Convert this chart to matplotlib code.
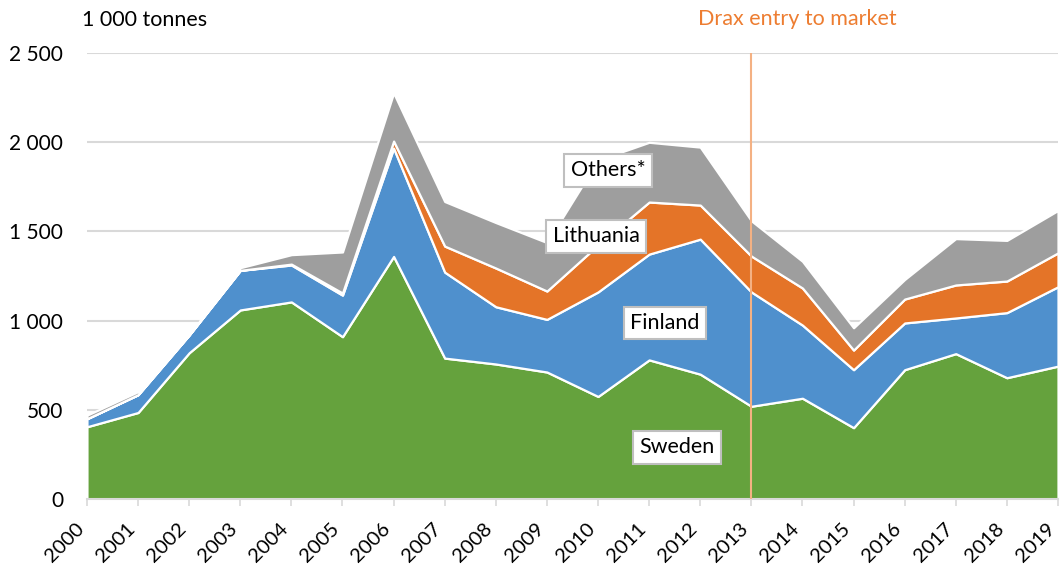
import matplotlib
matplotlib.use("Agg")

import matplotlib.pyplot as plt
import matplotlib.ticker as mticker

plt.rcParams["font.family"] = ["Lato", "DejaVu Sans"]

# Wood pellet imports, 1 000 tonnes
years = list(range(2000, 2020))
sweden = [405, 485, 820, 1060, 1105, 910, 1360, 790, 757, 712,
          575, 780, 700, 520, 565, 400, 725, 815, 680, 745]
finland = [45, 100, 100, 222, 207, 233, 607, 482, 321, 295,
           586, 593, 757, 641, 410, 325, 262, 200, 365, 445]
lithuania = [0, 0, 0, 0, 5, 12, 40, 146, 217, 159,
             263, 292, 191, 201, 208, 110, 134, 185, 177, 190]
others = [20, 17, 0, 15, 53, 230, 270, 250, 255, 272,
          476, 335, 325, 198, 150, 125, 110, 260, 228, 238]

series_names = ["Sweden", "Finland", "Lithuania", "Others*"]
label_pos = [(2011.55, 291), (2011.31, 987), (2009.96, 1474), (2010.2, 1844)]

COLORS = ["#65A23D", "#4F90CD", "#E47428", "#9E9E9E"]
GRID = "#D9D9D9"
DRAX_LINE = "#F4B183"
DRAX_TEXT = "#ED7D31"
FS = 15.5

fig = plt.figure(figsize=(10.63, 5.65), dpi=100)
ax = fig.add_axes([0.0818, 0.1168, 0.9135, 0.7892])

ax.stackplot(years, sweden, finland, lithuania, others, colors=COLORS,
             edgecolor="white", linewidth=1.6, zorder=3)

ax.set_xlim(2000, 2019)
ax.set_ylim(0, 2500)
ax.set_yticks(range(0, 2501, 500))
ax.yaxis.set_major_formatter(
    mticker.FuncFormatter(lambda v, p: f"{int(v):,}".replace(",", " ")))
ax.grid(axis="y", color=GRID, linewidth=1.5, zorder=0)
ax.set_axisbelow(True)

ax.set_xticks(years)
ax.set_xticklabels([str(y) for y in years], rotation=45, ha="right",
                   va="top", fontsize=14.5)
ax.tick_params(axis="x", direction="out", length=5, width=1.2, color=GRID, pad=10)
ax.tick_params(axis="y", length=0, pad=17, labelsize=15)

for side in ["top", "right", "left"]:
    ax.spines[side].set_visible(False)
ax.spines["bottom"].set_color(GRID)
ax.spines["bottom"].set_linewidth(1.5)
ax.spines["bottom"].set_zorder(4)

# Drax marker
ax.axvline(2013, color=DRAX_LINE, linewidth=1.5, zorder=5)
ax.text(2013.9, 2690, "Drax entry to market", color=DRAX_TEXT, fontsize=FS,
        ha="center", va="center", clip_on=False)

ax.text(-0.005, 1.075, "1 000 tonnes", transform=ax.transAxes, fontsize=FS,
        ha="left", va="center")

for name, (lx, ly) in zip(series_names, label_pos):
    ax.text(lx, ly, name, fontsize=FS, ha="center", va="center", zorder=6,
            bbox=dict(boxstyle="square,pad=0.3", facecolor="white",
                      edgecolor="#BFBFBF", linewidth=1.5))

fig.savefig("out.png", dpi=100)
